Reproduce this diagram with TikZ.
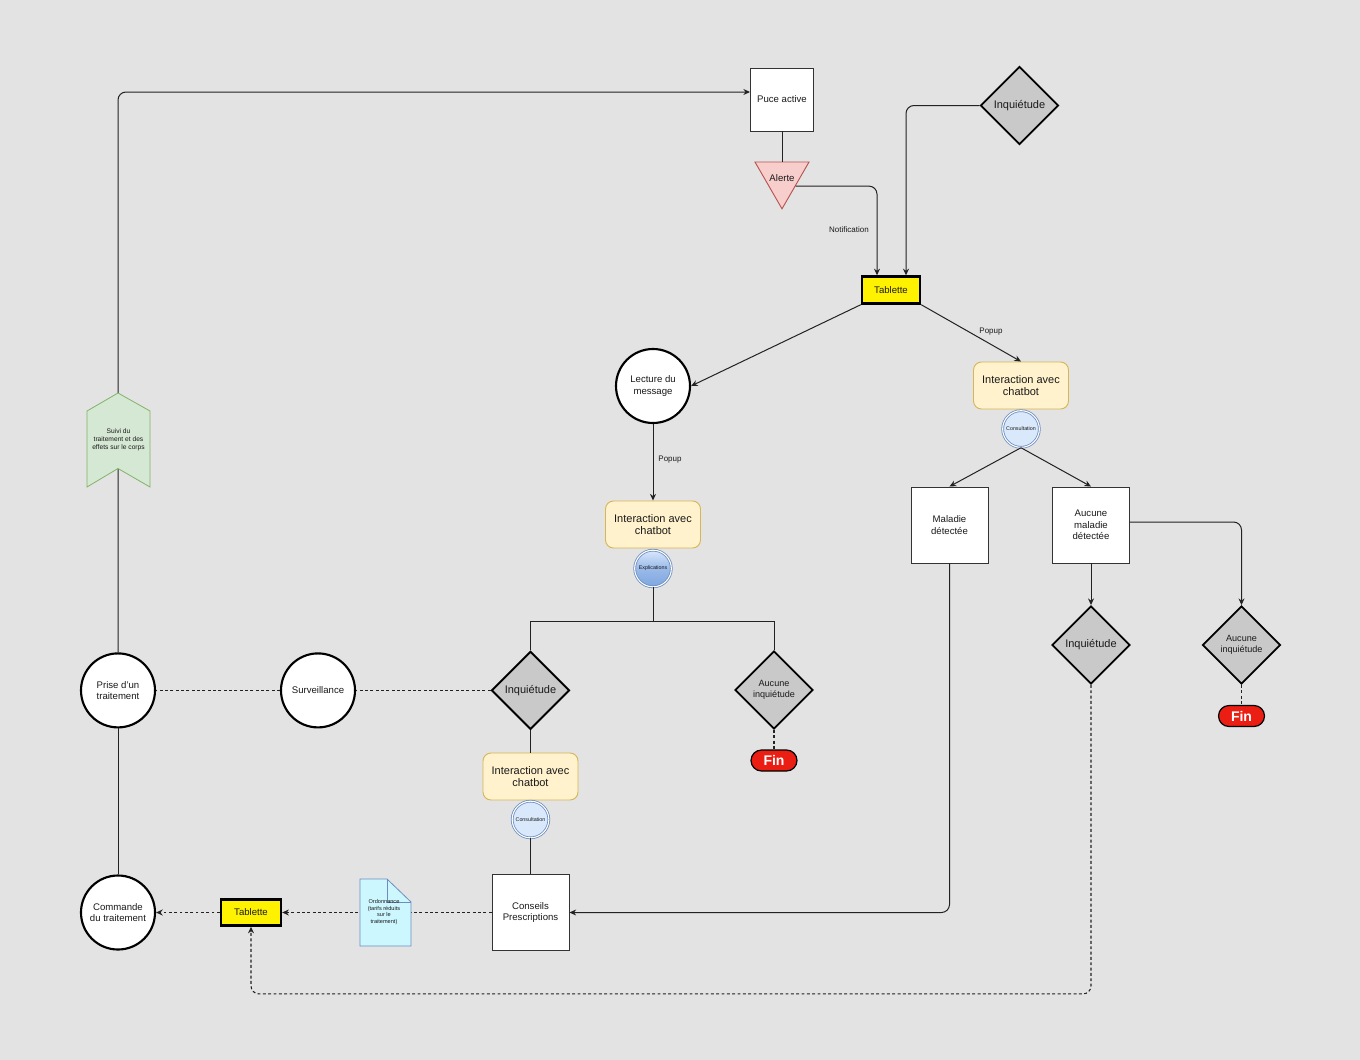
\documentclass[tikz,border=0pt]{standalone}
\usepackage{fontspec}
\setmainfont{Liberation Sans}
\usetikzlibrary{shapes.geometric,shapes.misc,arrows.meta,calc}
\definecolor{bg}{HTML}{E3E3E3}
\definecolor{txt}{HTML}{1A1A1A}
\definecolor{ln}{HTML}{222222}
\definecolor{boxln}{HTML}{333333}
\definecolor{ylwfill}{HTML}{FFF2CC}
\definecolor{ylwln}{HTML}{D6B656}
\definecolor{pinkfill}{HTML}{F8CECC}
\definecolor{pinkln}{HTML}{B85450}
\definecolor{grnfill}{HTML}{D5E8D4}
\definecolor{grnln}{HTML}{82B366}
\definecolor{bluefill}{HTML}{DAE8FC}
\definecolor{blueln}{HTML}{6C8EBF}
\definecolor{bluedark}{HTML}{7EA6E0}
\definecolor{docfill}{HTML}{CCF7FF}
\definecolor{dmdfill}{HTML}{C9C9C9}
\definecolor{finred}{HTML}{EB1E14}
\tikzset{
  lbl/.style={font=\fontsize{7.2}{8.6}\selectfont, align=center, text=txt},
  sqbox/.style={lbl, draw=boxln, fill=white, line width=0.7pt, minimum width=57.75pt, minimum height=57pt, inner sep=1pt},
  tabbox/.style={lbl, draw=black, fill=yellow, line width=1.8pt, inner sep=1pt},
  circnode/.style={lbl, circle, draw=black, fill=white, line width=1.6pt, minimum size=55.5pt, inner sep=1pt},
  chatbox/.style={font=\fontsize{8.25}{9.5}\selectfont, align=center, text=txt, draw=ylwln, fill=ylwfill, rounded corners=6pt, line width=0.7pt, minimum width=71.25pt, minimum height=35.25pt, inner sep=1pt},
  smallcirc/.style={font=\fontsize{4}{5}\selectfont, text=txt, circle, draw=blueln, double=white, double distance=0.8pt, line width=0.6pt, fill=bluefill, minimum size=27.5pt, inner sep=0pt},
  dmd/.style={diamond, aspect=1, draw=black, fill=dmdfill, line width=1.4pt, minimum width=58.5pt, minimum height=58.5pt, inner sep=0pt, align=center, text=txt},
  finnode/.style={rounded rectangle, draw=black, fill=finred, line width=0.9pt, minimum width=34.5pt, minimum height=15.75pt, inner sep=0pt, text=white, font=\bfseries\fontsize{10.5}{12}\selectfont},
  elabel/.style={font=\fontsize{6}{7}\selectfont, text=txt},
  conn/.style={draw=ln, line width=0.75pt},
  arrowconn/.style={conn, -{Stealth[length=5pt,width=4.5pt]}},
  dotconn/.style={conn, line width=0.8pt, dash pattern=on 2.2pt off 1.8pt},
  dotarrow/.style={dotconn, -{Stealth[length=5pt,width=4.5pt]}},
}
\begin{document}
\begin{tikzpicture}[x=0.75pt,y=-0.75pt]
\fill[bg] (0,0) rectangle (1360,1060);
\useasboundingbox (0,0) rectangle (1360,1060);

% ---------- nodes ----------
\node[sqbox, minimum width=47.25pt, minimum height=47.25pt] (Puce) at (782,99.5) {Puce active};
\node[regular polygon, regular polygon sides=3, shape border rotate=180, draw=pinkln, fill=pinkfill, line width=0.7pt, minimum size=46.8pt, inner sep=0pt, lbl] (Alerte) at (782,177.6) {};
\node[lbl] (AlerteT) at (782,178) {Alerte};
\node[dmd, font=\fontsize{8.25}{9.5}\selectfont] (InqTop) at (1019.5,105.5) {Inquiétude};
\node[tabbox, minimum width=43.5pt, minimum height=20.25pt] (Tab1) at (891,290) {Tablette};
\node[circnode] (Lecture) at (653,386) {Lecture du\\message};
\node[chatbox] (IntL) at (653,524.5) {Interaction avec\\chatbot};
\node[smallcirc, shading=axis, top color=bluefill, bottom color=bluedark, middle color=bluedark!70!bluefill] (Expl) at (653,568.5) {Explications};
\node[chatbox] (IntR) at (1021,385.5) {Interaction avec\\chatbot};
\node[smallcirc] (Cons1) at (1021,429) {Consultation};
\node[sqbox] (Mal) at (949.5,525) {Maladie\\détectée};
\node[sqbox] (AucMal) at (1091,525) {Aucune\\maladie\\détectée};
\node[dmd, font=\fontsize{8.25}{9.5}\selectfont] (InqR) at (1091,645) {Inquiétude};
\node[dmd, font=\fontsize{6.8}{8}\selectfont] (AucR) at (1241.5,645) {Aucune\\inquiétude};
\node[finnode] (FinR) at (1241.5,716) {Fin};
\node[dmd, font=\fontsize{8.25}{9.5}\selectfont] (InqM) at (530.5,690.4) {Inquiétude};
\node[dmd, font=\fontsize{6.8}{8}\selectfont] (AucM) at (774,690) {Aucune\\inquiétude};
\node[finnode] (FinM) at (774,760.5) {Fin};
\node[chatbox] (IntB) at (530.5,776.5) {Interaction avec\\chatbot};
\node[smallcirc] (Cons2) at (530.5,819.5) {Consultation};
\node[sqbox] (Conseils) at (530.5,912.5) {Conseils\\Prescriptions};
\node[circnode] (Surv) at (318,690.4) {Surveillance};
\node[circnode] (Prise) at (118,690.4) {Prise d'un\\traitement};
\node[circnode] (Commande) at (118,912.5) {Commande\\du traitement};
\node[tabbox, minimum width=45pt, minimum height=19.5pt] (Tab2) at (251,912.5) {Tablette};

% ---------- edge labels ----------
\node[elabel] (lNotif) at (849,230) {Notification};
\node[elabel] (lPop1) at (991,332) {Popup};
\node[elabel] (lPop2) at (670,460) {Popup};

% ---------- connectors ----------
\draw[conn] (Puce.south) -- (Alerte.north);
\draw[arrowconn, rounded corners=6pt] (Alerte.-32) -| ($(Tab1.north)+(-14,0)$);
\draw[arrowconn, rounded corners=6pt] (InqTop.west) -| ($(Tab1.north)+(15,0)$);
\draw[arrowconn] (Tab1.south west) -- (Lecture.east);
\draw[arrowconn] (Tab1.south east) -- (IntR.north);
\draw[arrowconn] (Lecture.south) -- (IntL.north);
\draw[conn] (Expl.south) -- ++(0,34) coordinate (split);
\draw[conn] (InqM.north) |- (split) -| (AucM.north);
\draw[dotconn] (AucM.south) -- (FinM.north);
\draw[conn] (InqM.south) -- (IntB.north);
\draw[conn] (Cons2.south) -- (Conseils.north);
\draw[dotconn] (InqM.west) -- (Surv.east);
\draw[dotconn] (Surv.west) -- (Prise.east);
\draw[conn] (Prise.south) -- (Commande.north);
\draw[arrowconn, rounded corners=6pt] (Prise.north) |- ($(Puce.west)+(0,-7.5)$);
\draw[dotarrow] (Conseils.west) -- (Tab2.east);
\draw[dotarrow] (Tab2.west) -- (Commande.east);
\draw[arrowconn] (Cons1.south) -- (Mal.north);
\draw[arrowconn] (Cons1.south) -- (AucMal.north);
\draw[arrowconn] (AucMal.south) -- (InqR.north);
\draw[arrowconn, rounded corners=6pt] ($(AucMal.east)+(0,-3)$) -| (AucR.north);
\draw[dotconn] (AucR.south) -- (FinR.north);
\draw[arrowconn, rounded corners=6pt] (Mal.south) |- (Conseils.east);
\draw[dotarrow, rounded corners=6pt] (InqR.south) -- ++(0,309) -| (Tab2.south);

% ---------- banner (Suivi) ----------
\filldraw[fill=grnfill, draw=grnln, line width=0.6pt] (87,411) -- (118,393) -- (150,411) -- (150,487) -- (118,468.5) -- (87,487) -- cycle;
\node[font=\fontsize{5}{6}\selectfont, align=center, text=txt] (Suivi) at (118.5,440) {Suivi du\\traitement et des\\effets sur le corps};

% ---------- document (Ordonnance) ----------
\filldraw[fill=docfill, draw=blueln, line width=0.6pt] (360,879) -- (387,879) -- (411,902) -- (411,946) -- (360,946) -- cycle;
\draw[draw=blueln, line width=0.6pt] (387,879) -- (387,902) -- (411,902);
\node[font=\fontsize{4.2}{4.9}\selectfont, align=center, text=txt] (Ordo) at (384,912) {Ordonnance\\(tarifs réduits\\sur le\\traitement)};
\end{tikzpicture}
\end{document}
